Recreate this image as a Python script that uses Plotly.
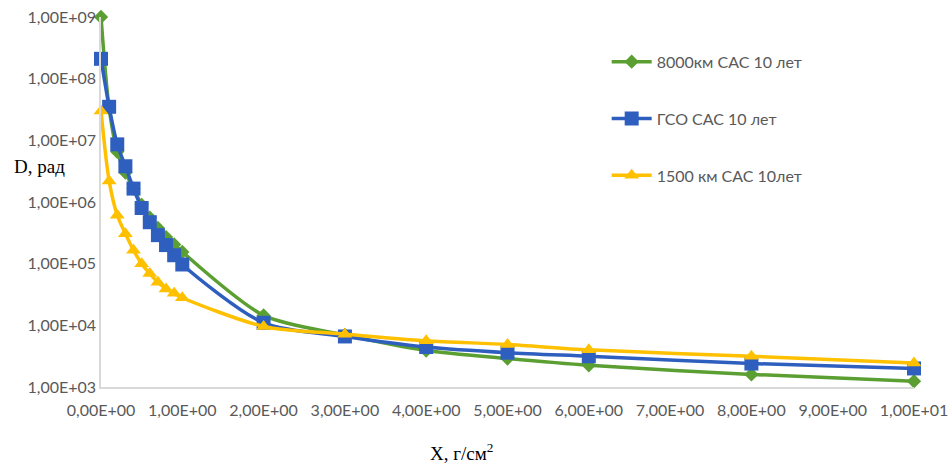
import plotly.graph_objects as go

x_vals = [0, 0.1, 0.2, 0.3, 0.4, 0.5, 0.6, 0.7, 0.8, 0.9, 1.0, 2, 3, 4, 5, 6, 8, 10]

green_8000 = [1.0e9, 3.3e7, 6.5e6, 3.0e6, 1.65e6, 9.0e5, 5.6e5, 3.8e5, 2.7e5, 2.05e5, 1.55e5,
              1.45e4, 7.0e3, 3.9e3, 2.9e3, 2.25e3, 1.6e3, 1.24e3]
blue_gso = [2.1e8, 3.5e7, 8.6e6, 3.8e6, 1.65e6, 8.0e5, 4.7e5, 2.9e5, 2.0e5, 1.37e5, 9.7e4,
            1.1e4, 6.6e3, 4.45e3, 3.6e3, 3.15e3, 2.4e3, 2.0e3]
yellow_1500 = [3.0e7, 2.2e6, 6.1e5, 3.07e5, 1.65e5, 1.0e5, 6.9e4, 5.0e4, 3.9e4, 3.3e4, 2.8e4,
               9.6e3, 7.2e3, 5.6e3, 4.9e3, 4.0e3, 3.15e3, 2.45e3]

series_names = ["8000км САС 10 лет", "ГСО САС 10 лет", "1500 км САС 10лет"]

x_tickvals = [0, 1, 2, 3, 4, 5, 6, 7, 8, 9, 10]
x_ticktext = ["0,00E+00", "1,00E+00", "2,00E+00", "3,00E+00", "4,00E+00", "5,00E+00",
              "6,00E+00", "7,00E+00", "8,00E+00", "9,00E+00", "1,00E+01"]
y_tickvals = [1e3, 1e4, 1e5, 1e6, 1e7, 1e8, 1e9]
y_ticktext = ["1,00E+03", "1,00E+04", "1,00E+05", "1,00E+06", "1,00E+07", "1,00E+08", "1,00E+09"]

colors = ["#5B9F32", "#2E5FBF", "#FFC000"]
symbols = ["diamond", "square", "triangle-up"]
msizes = [11, 14, 13]

fig = go.Figure()
for i, (name, ys) in enumerate(zip(series_names, [green_8000, blue_gso, yellow_1500])):
    fig.add_trace(go.Scatter(
        x=x_vals, y=ys, name=name, mode="lines+markers",
        line=dict(color=colors[i], width=3.5, shape="spline", smoothing=0.8),
        marker=dict(symbol=symbols[i], size=msizes[i], color=colors[i]),
        legendgroup=str(i), cliponaxis=False,
    ))

fig.update_layout(
    width=952, height=463,
    margin=dict(l=101, r=38, t=17, b=76, autoexpand=False),
    paper_bgcolor="white", plot_bgcolor="white",
    font=dict(family="Lato", size=16, color="#595959"),
    showlegend=True,
    legend=dict(x=0.622, y=0.925, xanchor="left", yanchor="top",
                font=dict(family="Lato", size=16, color="#595959"),
                tracegroupgap=33, itemwidth=40, bgcolor="rgba(0,0,0,0)"),
    xaxis=dict(range=[0, 10], tickvals=x_tickvals, ticktext=x_ticktext, automargin=False,
               showgrid=False, zeroline=False, showline=True, linecolor="#D9D9D9",
               linewidth=1.5, ticks="", ticklabelstandoff=8, tickfont=dict(size=16)),
    yaxis=dict(type="log", range=[3, 9], tickvals=y_tickvals, ticktext=y_ticktext, automargin=False,
               showgrid=False, zeroline=False, showline=True, linecolor="#D9D9D9",
               linewidth=1.5, ticks="", tickfont=dict(size=16)),
    annotations=[
        dict(text="D, рад", xref="paper", yref="paper", x=-0.076, y=0.595,
             xanchor="center", yanchor="middle", showarrow=False,
             font=dict(family="Liberation Serif", size=19, color="#000000")),
        dict(text="X, г/см<sup>2</sup>", xref="paper", yref="paper", x=0.444, y=-0.175,
             xanchor="center", yanchor="middle", showarrow=False,
             font=dict(family="Liberation Serif", size=19, color="#000000")),
    ],
)

fig.write_html("out.html", config={"displayModeBar": False},
               post_script="document.body.style.margin='0';")
